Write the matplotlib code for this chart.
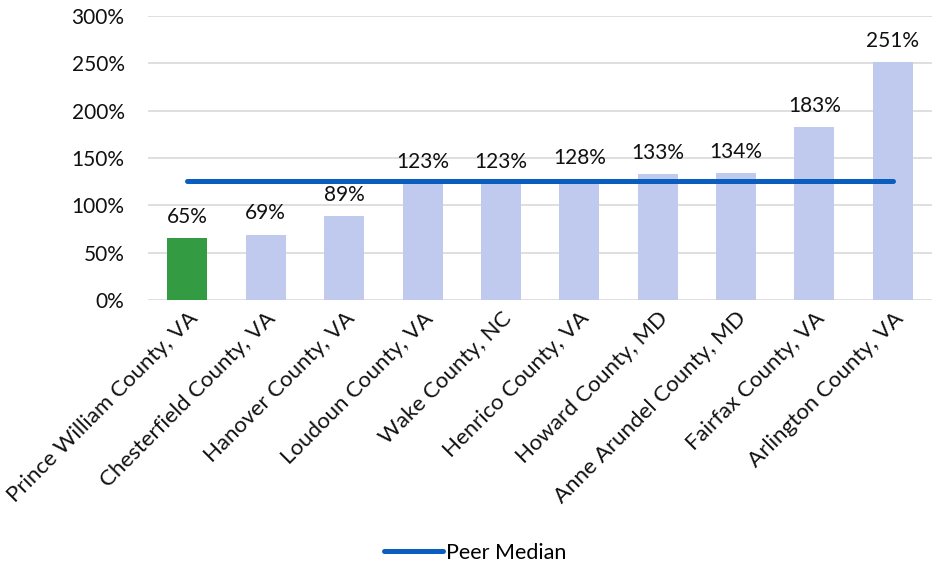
import numpy as np
import matplotlib.pyplot as plt
from matplotlib.ticker import FuncFormatter
from matplotlib.lines import Line2D

counties = ['Prince William County, VA', 'Chesterfield County, VA', 'Hanover County, VA',
            'Loudoun County, VA', 'Wake County, NC', 'Henrico County, VA', 'Howard County, MD',
            'Anne Arundel County, MD', 'Fairfax County, VA', 'Arlington County, VA']
values = [65, 69, 89, 123, 123, 128, 133, 134, 183, 251]
peer_median = 125.5

plt.rcParams['font.family'] = ['Lato', 'DejaVu Sans']

fig = plt.figure(figsize=(9.32, 5.68), dpi=100)
ax = fig.add_axes([0.159, 0.472, 0.841, 0.5])

x = np.arange(len(counties))
colors = ['#339C42'] + ['#C0CAEF'] * (len(counties) - 1)
bars = ax.bar(x, values, width=0.51, color=colors, zorder=2)

for xi, v in zip(x, values):
    ax.annotate(f'{v}%', (xi, v), xytext=(0, 8), textcoords='offset points',
                ha='center', va='bottom', fontsize=15, color='#111111')

ax.plot(x, [peer_median] * len(x), color='#0A5EBF', lw=3.6,
        solid_capstyle='round', zorder=3)

ax.set_xlim(-0.5, len(x) - 0.5)
ax.set_ylim(0, 300)
ax.set_yticks(np.arange(0, 301, 50))
ax.yaxis.set_major_formatter(FuncFormatter(lambda v, p: f'{v:.0f}%'))
ax.grid(axis='y', color='#D9D9D9', lw=1.2, zorder=0)
for s in ax.spines.values():
    s.set_visible(False)
ax.tick_params(axis='y', length=0, labelsize=15, colors='#111111', pad=17)
ax.tick_params(axis='x', length=0, labelsize=16, colors='#111111', pad=6)
ax.set_xticks(x)
ax.set_xticklabels(counties, rotation=45, ha='right', rotation_mode='anchor')

handle = Line2D([], [], color='#0A5EBF', lw=3.6, solid_capstyle='round')
fig.legend([handle], ['Peer Median'], loc='lower center', bbox_to_anchor=(0.51, -0.025),
           frameon=False, fontsize=15.5, handlelength=2.7, handletextpad=0.15)

fig.savefig('out.png', dpi=100)
